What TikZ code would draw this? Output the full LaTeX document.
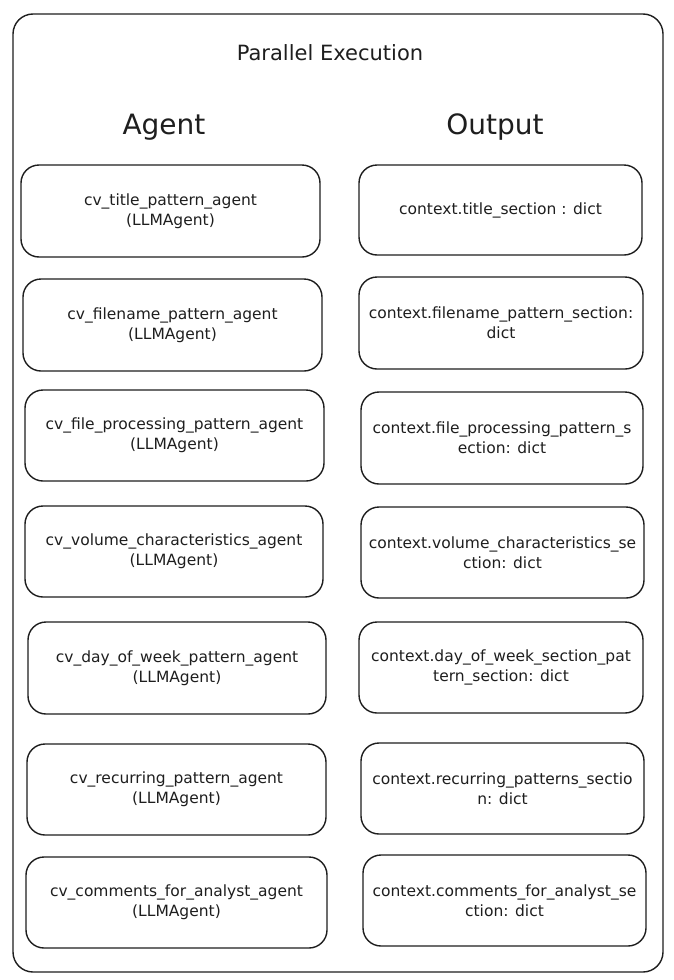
\documentclass[tikz,border=0pt]{standalone}
\usepackage{fontspec}
\setmainfont{DejaVu Sans}
\definecolor{ink}{HTML}{1E1E1E}
\begin{document}
\begin{tikzpicture}[x=1pt,y=-1pt,
  box/.style={draw=ink, line width=1.4pt, rounded corners=18pt, inner sep=0pt,
    align=center, text=ink, font=\fontsize{15.5}{20}\selectfont},
  head/.style={text=ink, inner sep=0pt, font=\fontsize{28}{32}\selectfont},
]
\useasboundingbox (0,0) rectangle (674,980);
\fill[white] (0,0) rectangle (674,980);
\node[draw=ink, line width=1.4pt, rounded corners=20pt, minimum width=650pt, minimum height=958pt] (frame) at (338,493) {};
\node[text=ink, inner sep=0pt, font=\fontsize{21}{24}\selectfont] (title) at (330,53) {Parallel Execution};
\node[head] (hagent) at (164,127) {Agent};
\node[head] (houtput) at (495,127) {Output};

\node[box, minimum width=299pt, minimum height=92pt] (a1) at (170.5,211) {cv\_title\_pattern\_agent\\(LLMAgent)};
\node[box, minimum width=299pt, minimum height=92pt] (a2) at (172.5,325) {cv\_filename\_pattern\_agent\\(LLMAgent)};
\node[box, minimum width=299pt, minimum height=91pt] (a3) at (174.5,435.5) {cv\_file\_processing\_pattern\_agent\\(LLMAgent)};
\node[box, minimum width=298pt, minimum height=91pt] (a4) at (174,551.5) {cv\_volume\_characteristics\_agent\\(LLMAgent)};
\node[box, minimum width=298pt, minimum height=92pt] (a5) at (177,668) {cv\_day\_of\_week\_pattern\_agent\\(LLMAgent)};
\node[box, minimum width=299pt, minimum height=91pt] (a6) at (176.5,789.5) {cv\_recurring\_pattern\_agent\\(LLMAgent)};
\node[box, minimum width=301pt, minimum height=91pt] (a7) at (176.5,902.5) {cv\_comments\_for\_analyst\_agent\\(LLMAgent)};

\node[box, minimum width=283pt, minimum height=90pt] (o1) at (500.5,210) {context.title\_section : dict};
\node[box, minimum width=284pt, minimum height=92pt] (o2) at (501,323) {context.filename\_pattern\_section:\\dict};
\node[box, minimum width=282pt, minimum height=92pt] (o3) at (502,438) {context.file\_processing\_pattern\_s\\ection: dict};
\node[box, minimum width=283pt, minimum height=91pt] (o4) at (502.5,552.5) {context.volume\_characteristics\_se\\ction: dict};
\node[box, minimum width=284pt, minimum height=91pt] (o5) at (501,667.5) {context.day\_of\_week\_section\_pat\\tern\_section: dict};
\node[box, minimum width=283pt, minimum height=91pt] (o6) at (502.5,788.5) {context.recurring\_patterns\_sectio\\n: dict};
\node[box, minimum width=283pt, minimum height=91pt] (o7) at (504.5,900.5) {context.comments\_for\_analyst\_se\\ction: dict};
\end{tikzpicture}
\end{document}
